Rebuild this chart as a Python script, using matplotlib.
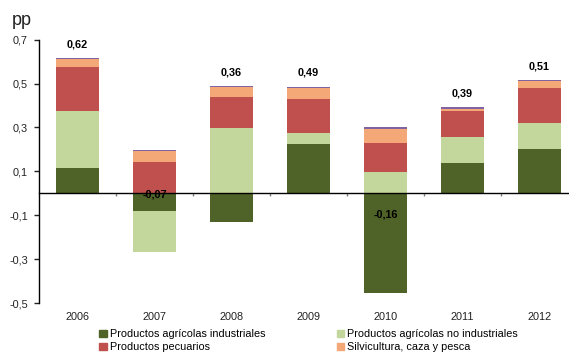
import matplotlib
matplotlib.use("Agg")
import matplotlib.pyplot as plt
import matplotlib.patches as mpatches
import numpy as np

plt.rcParams["font.family"] = ["Liberation Sans", "DejaVu Sans"]

years = ["2006", "2007", "2008", "2009", "2010", "2011", "2012"]
agr_ind = [0.116, -0.078, -0.128, 0.225, -0.455, 0.140, 0.204]
agr_no_ind = [0.260, -0.190, 0.298, 0.051, 0.096, 0.118, 0.118]
pecuarios = [0.200, 0.143, 0.139, 0.154, 0.135, 0.117, 0.158]
silvicultura = [0.037, 0.050, 0.046, 0.050, 0.064, 0.009, 0.031]
otros = [0.003, 0.005, 0.004, 0.005, 0.005, 0.008, 0.004]
totals = [0.62, -0.07, 0.36, 0.49, -0.16, 0.39, 0.51]

series = [
    ("Productos agrícolas industriales", agr_ind, "#4f6228"),
    ("Productos agrícolas no industriales", agr_no_ind, "#c3d69b"),
    ("Productos pecuarios", pecuarios, "#c0504d"),
    ("Silvicultura, caza y pesca", silvicultura, "#f4a878"),
    ("Otros", otros, "#8064a2"),
]

fig = plt.figure(figsize=(5.69, 3.54), dpi=100)
ax = fig.add_axes([0.0685, 0.1432, 0.947, 0.745])

x = np.arange(len(years))
pos = np.zeros(len(years))
neg = np.zeros(len(years))
handles = []
for name, vals, col in series:
    vals = np.array(vals)
    bottoms = np.where(vals >= 0, pos, neg)
    ax.bar(x, vals, 0.56, bottom=bottoms, color=col, edgecolor="none", zorder=2)
    pos = pos + np.where(vals >= 0, vals, 0)
    neg = neg + np.where(vals < 0, vals, 0)
    handles.append(mpatches.Patch(color=col, label=name))

# net total labels: above the stack for positive years, above the net value otherwise
for xi, t, top in zip(x, totals, pos):
    anchor = top if t > 0 else t
    ax.annotate(("%.2f" % t).replace(".", ","), (xi, anchor), xytext=(0, 10),
                textcoords="offset points", ha="center", va="center",
                fontsize=7.8, fontweight="bold", zorder=5)

ax.set_xlim(-0.5, 6.5)
ax.set_ylim(-0.5, 0.7)
ax.set_yticks([-0.5, -0.3, -0.1, 0.1, 0.3, 0.5, 0.7])
ax.set_yticklabels([("%.1f" % v).replace(".", ",") for v in ax.get_yticks()])
ax.tick_params(axis="y", direction="out", length=3.5, width=1, pad=4.5,
               labelsize=7.8, colors="#222222")

ax.spines["top"].set_visible(False)
ax.spines["right"].set_visible(False)
ax.spines["bottom"].set_position(("data", 0))
ax.spines["bottom"].set_zorder(4)
ax.spines["left"].set_linewidth(1)
ax.spines["bottom"].set_linewidth(1)
ax.set_xticks(np.arange(0.5, 6.5, 1))
ax.set_xticklabels([])
ax.tick_params(axis="x", direction="out", length=2.5, width=1, color="#808080")

sec = ax.secondary_xaxis("bottom")
sec.set_xticks(x)
sec.set_xticklabels(years)
sec.tick_params(length=0, pad=6.5, labelsize=7.8, labelcolor="#222222")
sec.spines["bottom"].set_visible(False)

fig.text(0.02, 0.943, "pp", fontsize=13, va="center", color="#222222")

leg_order = [handles[0], handles[2], handles[1], handles[3]]
fig.legend(handles=leg_order, ncol=2, loc="lower left",
           bbox_to_anchor=(0.167, -0.008), frameon=False, fontsize=7.8,
           handlelength=0.7, handleheight=0.7, handletextpad=0.3,
           columnspacing=6.55, labelspacing=0.3, borderaxespad=0)

fig.savefig("out.png", dpi=100)
